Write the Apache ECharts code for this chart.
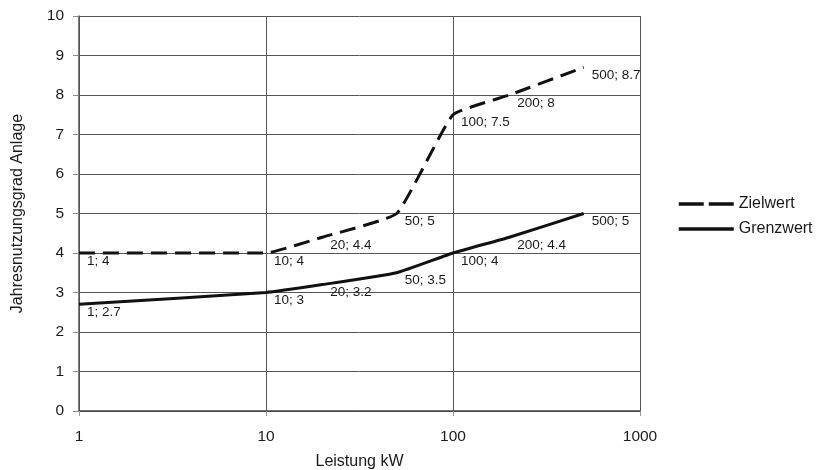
<!DOCTYPE html>
<html><head><meta charset="utf-8">
<script src="https://cdn.jsdelivr.net/npm/echarts@6/dist/echarts.min.js"></script>
<style>html,body{margin:0;padding:0;background:#fff}#c{width:820px;height:470px}</style>
</head><body><div id="c"></div>
<script>
const xValues = [1, 10, 20, 50, 100, 200, 500];
const zielwert = [4, 4, 4.4, 5, 7.5, 8, 8.7];
const grenzwert = [2.7, 3, 3.2, 3.5, 4, 4.4, 5];
const seriesNames = ['Zielwert', 'Grenzwert'];
const xAxisTitle = 'Leistung kW';
const yAxisTitle = 'Jahresnutzungsgrad Anlage';

const font = 'Liberation Sans, Arial, sans-serif';
function pairs(ys){ return xValues.map((x,i)=>[x, ys[i]]); }
const lbl = {
  show: true, position: [8, 1], align: 'left', verticalAlign: 'top',
  fontFamily: font, fontSize: 13.5, color: '#1a1a1a',
  formatter: p => p.value[0] + '; ' + p.value[1]
};
const chart = echarts.init(document.getElementById('c'));
chart.setOption({
  animation: false,
  backgroundColor: '#fff',
  grid: { left: 79, right: 180, top: 16, bottom: 59, containLabel: false, outerBoundsMode: 'none' },
  legend: {
    orient: 'vertical', left: 672, top: 191, itemWidth: 55, itemHeight: 12, itemGap: 9,
    itemStyle: { opacity: 0 },
    textStyle: { fontFamily: font, fontSize: 16, color: '#1a1a1a' },
    data: [
      { name: seriesNames[0], lineStyle: { type: [25, 5], width: 3.5 } },
      { name: seriesNames[1], lineStyle: { width: 3.5 } }
    ]
  },
  xAxis: {
    type: 'log', logBase: 10, min: 1, max: 1000,
    name: xAxisTitle, nameLocation: 'middle', nameGap: 43,
    nameTextStyle: { fontFamily: font, fontSize: 16, color: '#1a1a1a' },
    axisLine: { show: true, lineStyle: { color: '#444', width: 1.5 } },
    axisTick: { show: true, length: 5, lineStyle: { color: '#999' } },
    axisLabel: { fontFamily: font, fontSize: 15.5, color: '#1a1a1a', margin: 18, formatter: v => String(Math.round(v)) },
    splitLine: { show: true, lineStyle: { color: '#555', width: 1 } }
  },
  yAxis: {
    type: 'value', min: 0, max: 10, interval: 1,
    name: yAxisTitle, nameLocation: 'middle', nameGap: 53,
    nameTextStyle: { fontFamily: font, fontSize: 16, color: '#1a1a1a' },
    axisLine: { show: true, lineStyle: { color: '#555', width: 1.5 } },
    axisTick: { show: true, length: 6, lineStyle: { color: '#888' } },
    axisLabel: { fontFamily: font, fontSize: 15.5, color: '#1a1a1a', margin: 15 },
    splitLine: { show: true, lineStyle: { color: '#555', width: 1 } }
  },
  series: [
    {
      name: seriesNames[0], type: 'line', data: pairs(zielwert),
      smooth: 0.12, showSymbol: true, symbol: 'circle', symbolSize: 0.1,
      lineStyle: { color: '#111', width: 3, type: [16, 8] },
      itemStyle: { color: '#111' },
      label: lbl
    },
    {
      name: seriesNames[1], type: 'line', data: pairs(grenzwert),
      smooth: 0.12, showSymbol: true, symbol: 'circle', symbolSize: 0.1,
      lineStyle: { color: '#111', width: 3 },
      itemStyle: { color: '#111' },
      label: lbl
    }
  ]
});
</script></body></html>
